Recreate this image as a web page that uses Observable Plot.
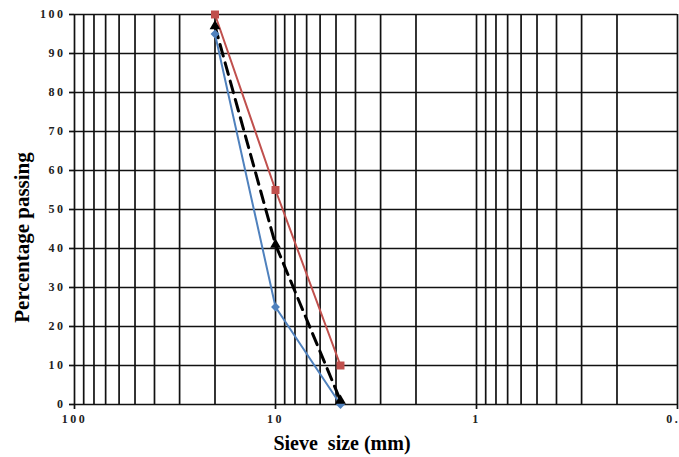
<!DOCTYPE html>
<html>
<head>
<meta charset="utf-8">
<script src="https://cdn.jsdelivr.net/npm/d3@7"></script>
<script src="https://cdn.jsdelivr.net/npm/@observablehq/plot@0.6"></script>
<style>
  html, body { margin: 0; padding: 0; background: white; overflow: hidden; }
  g[aria-label="x-axis tick label"], g[aria-label="y-axis tick label"],
  g[aria-label="x-axis tick label"] text, g[aria-label="y-axis tick label"] text {
    font-family: 'Liberation Serif', 'Times New Roman', serif !important;
    font-size: 12px !important;
    font-weight: bold;
    letter-spacing: 2.5px;
    fill: #222;
  }
</style>
</head>
<body>
<div id="chart"></div>
<script>
// Sieve sizes (mm)
const sieveSizes = [20, 10, 4.75];
// Series values (% passing)
const blueValues = [95, 25, 0];
const redValues = [100, 55, 10];
const blackValues = [97, 41, 1];
// Axis ticks
const xTickValues = [100, 10, 1, 0.1];
const xTickLabels = ["100", "10", "1", "0.1"];
const yTickValues = [0, 10, 20, 30, 40, 50, 60, 70, 80, 90, 100];
// Grid lines (log cycles)
const xGridValues = [100, 90, 80, 70, 60, 50, 40, 30, 20,
  10, 9, 8, 7, 6, 5, 4, 3, 2,
  1, 0.9, 0.8, 0.7, 0.6, 0.5, 0.4, 0.3, 0.2, 0.1];
const xTitle = "Sieve  size (mm)";
const yTitle = "Percentage passing";

const blueData = sieveSizes.map((s, i) => ({size: s, pass: blueValues[i]}));
const redData = sieveSizes.map((s, i) => ({size: s, pass: redValues[i]}));
const blackData = sieveSizes.map((s, i) => ({size: s, pass: blackValues[i]}));

const BLUE = "#4F81BD", RED = "#C0504D";
const SERIF = "'Liberation Serif', 'Times New Roman', serif";

const chart = Plot.plot({
  width: 679,
  height: 457,
  marginLeft: 74,
  marginRight: 2,
  marginTop: 14,
  marginBottom: 53,
  style: {fontFamily: SERIF, fontSize: "11px", color: "black", background: "white", overflow: "visible"},
  x: {type: "log", domain: [100, 0.1]},
  y: {domain: [0, 100]},
  marks: [
    Plot.ruleX(xGridValues, {stroke: "#111", strokeWidth: 1.7}),
    Plot.ruleY(yTickValues, {stroke: "#111", strokeWidth: 1.7}),
    Plot.axisX({ticks: xTickValues, tickFormat: (d) => xTickLabels[xTickValues.indexOf(d)], tickSize: 5, tickPadding: 5, label: null, stroke: "#111", strokeWidth: 1.7, fill: "black"}),
    Plot.axisY({ticks: yTickValues, tickSize: 5, tickPadding: 4, label: null, stroke: "#111", strokeWidth: 1.7, fill: "black"}),
    Plot.line(blueData, {x: "size", y: "pass", stroke: BLUE, strokeWidth: 2}),
    Plot.line(redData, {x: "size", y: "pass", stroke: RED, strokeWidth: 2}),
    Plot.line(blackData, {x: "size", y: "pass", stroke: "black", strokeWidth: 3, strokeDasharray: "12,7"}),
    Plot.dot(blueData, {x: "size", y: "pass", symbol: "diamond2", fill: BLUE, r: 4}),
    Plot.dot(redData, {x: "size", y: "pass", symbol: "square", fill: RED, r: 4.5}),
    Plot.dot(blackData, {x: "size", y: "pass", symbol: "triangle", fill: "black", r: 4}),
    Plot.text([xTitle], {frameAnchor: "bottom", textAnchor: "middle", dx: -34, dy: 39, fontSize: 20, fontFamily: SERIF, fontWeight: "bold", lineAnchor: "middle", fill: "black"}),
    Plot.text([yTitle], {frameAnchor: "left", textAnchor: "middle", dx: -52, dy: 28, rotate: -90, fontSize: 21, fontFamily: SERIF, fontWeight: "bold", lineAnchor: "middle", fill: "black"})
  ]
});
document.getElementById("chart").appendChild(chart);
</script>
</body>
</html>
